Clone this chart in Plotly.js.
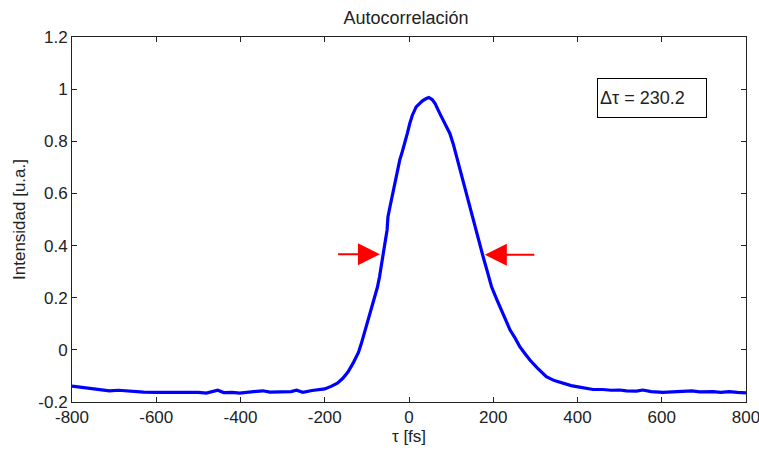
<!DOCTYPE html>
<html>
<head>
<meta charset="utf-8">
<script src="https://cdn.plot.ly/plotly-3.0.1.min.js"></script>
<style>html,body{margin:0;padding:0;background:#fff;}#chart{width:759px;height:450px;}</style>
</head>
<body>
<div id="chart"></div>
<script>
const tau = [-800,-780,-766,-740,-711,-690,-660,-630,-600,-560,-530,-500,-481,-465,-454,-440,-420,-402,-380,-360,-347,-330,-300,-280,-267,-252,-230,-210,-200,-185,-170,-157,-145,-133,-120,-113,-105,-97,-90,-81.5,-75,-70,-62,-56,-52,-50,-45,-42,-36,-32,-27,-22,-16,-10,-4,2,8,17,25,32,40,47,55,62,73,85,97,105,113,120,128,136,144,152,160,168,176,186,196,208,220,230,240,252,263,275,287,305,326,345,366,385,398,420,437,460,480,500,516,540,555,575,603,625,650,672,690,722,740,760,780,800];
const intensity = [-0.139,-0.143,-0.145,-0.150,-0.157,-0.155,-0.160,-0.162,-0.163,-0.162,-0.164,-0.163,-0.166,-0.160,-0.155,-0.164,-0.163,-0.166,-0.162,-0.160,-0.157,-0.162,-0.161,-0.160,-0.155,-0.163,-0.156,-0.153,-0.150,-0.140,-0.128,-0.109,-0.085,-0.052,-0.010,0.025,0.070,0.114,0.160,0.204,0.240,0.280,0.370,0.420,0.460,0.510,0.550,0.575,0.610,0.651,0.690,0.728,0.760,0.792,0.830,0.869,0.900,0.932,0.945,0.955,0.963,0.968,0.960,0.945,0.907,0.870,0.830,0.790,0.741,0.700,0.651,0.600,0.549,0.500,0.447,0.400,0.357,0.300,0.242,0.195,0.153,0.115,0.076,0.045,0.012,-0.014,-0.039,-0.070,-0.103,-0.118,-0.129,-0.137,-0.141,-0.147,-0.152,-0.152,-0.155,-0.154,-0.157,-0.158,-0.154,-0.160,-0.163,-0.161,-0.160,-0.157,-0.161,-0.160,-0.163,-0.160,-0.163,-0.165];
const xTicks = [-800,-600,-400,-200,0,200,400,600,800];
const xTickText = ['-800','-600','-400','-200','0','200','400','600','800'];
const yTicks = [-0.2,0,0.2,0.4,0.6,0.8,1,1.2];
const yTickText = ['-0.2','0','0.2','0.4','0.6','0.8','1','1.2'];
const titleText = 'Autocorrelación';
const xTitle = 'τ [fs]';
const yTitle = 'Intensidad [u.a.]';
const boxText = 'Δτ = 230.2';
const leftArrow = {tail:[-172,0.367], tip:[-69,0.367]};
const rightArrow = {tail:[301,0.365], tip:[180,0.365]};
const boxPos = [578, 0.965];

const fnt = {family:'Liberation Sans, Arial, sans-serif', size:17, color:'#222'};
const axBase = {showline:true, linecolor:'#222', linewidth:1, mirror:'ticks', ticks:'inside', ticklen:5, tickcolor:'#222', showgrid:false, zeroline:false, tickfont:fnt, ticklabeloverflow:'allow'};

const layout = {
  width:759, height:450,
  margin:{l:72, r:13, t:37, b:48},
  paper_bgcolor:'#fff', plot_bgcolor:'#fff',
  showlegend:false,
  title:{text:titleText, font:{family:fnt.family, size:18, color:'#222'}, x:0.535, xanchor:'center', y:0.975, yanchor:'top'},
  xaxis:Object.assign({}, axBase, {range:[-800.0001,800.0001], tickvals:xTicks, ticktext:xTickText, title:{text:xTitle, font:fnt, standoff:3}}),
  yaxis:Object.assign({}, axBase, {range:[-0.2,1.2], tickvals:yTicks, ticktext:yTickText, title:{text:yTitle, font:fnt, standoff:8}}),
  annotations:[
    {x:leftArrow.tip[0], y:leftArrow.tip[1], ax:leftArrow.tail[0], ay:leftArrow.tail[1], xref:'x', yref:'y', axref:'x', ayref:'y', showarrow:true, arrowhead:2, arrowsize:2.2, arrowwidth:2, arrowcolor:'#ff0000', text:''},
    {x:rightArrow.tip[0], y:rightArrow.tip[1], ax:rightArrow.tail[0], ay:rightArrow.tail[1], xref:'x', yref:'y', axref:'x', ayref:'y', showarrow:true, arrowhead:2, arrowsize:2.2, arrowwidth:2, arrowcolor:'#ff0000', text:''},
    {x:boxPos[0], y:boxPos[1], xref:'x', yref:'y', showarrow:false, text:boxText, font:{family:fnt.family, size:18, color:'#222'}, bordercolor:'#000', borderwidth:1, bgcolor:'#fff', width:104, height:34, align:'left', borderpad:2}
  ]
};

Plotly.newPlot('chart', [{x:tau, y:intensity, type:'scatter', mode:'lines', line:{color:'#0000ff', width:3.2}, hoverinfo:'none'}], layout, {staticPlot:true});
</script>
</body>
</html>
